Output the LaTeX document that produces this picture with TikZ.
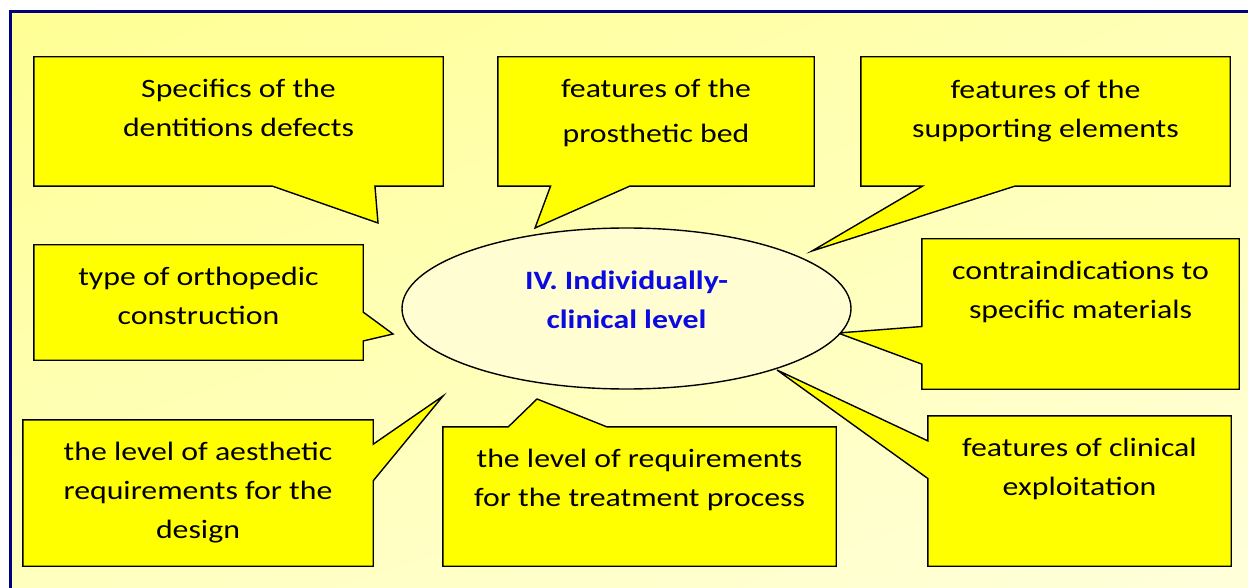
\documentclass[tikz,border=0pt]{standalone}
\usepackage{fontspec}
\newfontfamily\calloutfont{Carlito}[FakeStretch=1.2]
\usetikzlibrary{positioning,calc,shapes.geometric,shadings}
\definecolor{frameblue}{RGB}{0,0,128}
\definecolor{levelblue}{RGB}{10,10,225}
\definecolor{calloutyellow}{RGB}{255,255,0}
\begin{document}
\begin{tikzpicture}[x=1pt,y=-1pt,
	box/.style={rectangle, inner sep=0pt, draw=none},
	callout/.style={draw=black, line width=1.4pt, fill=calloutyellow, line join=miter},
	txt/.style={align=center, inner sep=0pt, font=\calloutfont\fontsize{26.5}{39}\selectfont},
	core/.style={ellipse, draw=black, line width=1.4pt, fill=yellow!18, inner sep=0pt, minimum width=449pt, minimum height=161pt},
	coretxt/.style={txt, text=levelblue, font=\calloutfont\bfseries\fontsize{26.5}{39}\selectfont}]
			%Background
			\clip (0,0) rectangle (1248,588);
			\fill[white] (0,0) rectangle (1248,588);
			\shade[upper left=yellow!42, upper right=yellow!28, lower left=yellow!25, lower right=yellow!14] (10.5,11.5) rectangle (1262,602);
			\draw[frameblue, line width=3pt] (10.5,11.5) rectangle (1262,602);
			%Boxes
			\node[box, minimum width=409pt, minimum height=129pt] (b1) at (238.5,121.5) {};
			\node[box, minimum width=316pt, minimum height=129pt] (b2) at (656,121.5) {};
			\node[box, minimum width=369pt, minimum height=129pt] (b3) at (1045.5,121.5) {};
			\node[box, minimum width=329pt, minimum height=115pt] (b4) at (198.5,302.5) {};
			\node[box, minimum width=317pt, minimum height=150pt] (b5) at (1080.5,314) {};
			\node[box, minimum width=350pt, minimum height=146pt] (b6) at (198,493) {};
			\node[box, minimum width=393pt, minimum height=139pt] (b7) at (639.5,496.5) {};
			\node[box, minimum width=303pt, minimum height=150pt] (b8) at (1079.5,491) {};
			%Pointer tips
			\coordinate (t1) at (378,223);
			\coordinate (t2) at (535,228);
			\coordinate (t3) at (812,251);
			\coordinate (t4) at (393,334);
			\coordinate (t5) at (838,333);
			\coordinate (t6) at (443,396);
			\coordinate (t7) at (537,399);
			\coordinate (t8) at (777,370);
			%Callouts
			\draw[callout] (b1.north west) -- (b1.north east) -- (b1.south east) -- ($(b1.south west)!10/12!(b1.south east)$) -- (t1) -- ($(b1.south west)!7/12!(b1.south east)$) -- (b1.south west) -- cycle;
			\draw[callout] (b2.north west) -- (b2.north east) -- (b2.south east) -- ($(b2.south west)!5/12!(b2.south east)$) -- (t2) -- ($(b2.south west)!2/12!(b2.south east)$) -- (b2.south west) -- cycle;
			\draw[callout] (b3.north west) -- (b3.north east) -- (b3.south east) -- ($(b3.south west)!5/12!(b3.south east)$) -- (t3) -- ($(b3.south west)!2/12!(b3.south east)$) -- (b3.south west) -- cycle;
			\draw[callout] (b4.north west) -- (b4.north east) -- ($(b4.north east)!7/12!(b4.south east)$) -- (t4) -- ($(b4.north east)!10/12!(b4.south east)$) -- (b4.south east) -- (b4.south west) -- cycle;
			\draw[callout] (b5.north west) -- (b5.north east) -- (b5.south east) -- (b5.south west) -- ($(b5.north west)!10/12!(b5.south west)$) -- (t5) -- ($(b5.north west)!7/12!(b5.south west)$) -- cycle;
			\draw[callout] (b6.north west) -- (b6.north east) -- ($(b6.north east)!2/12!(b6.south east)$) -- (t6) -- ($(b6.north east)!5/12!(b6.south east)$) -- (b6.south east) -- (b6.south west) -- cycle;
			\draw[callout] (b7.north west) -- ($(b7.north west)!2/12!(b7.north east)$) -- (t7) -- ($(b7.north west)!5/12!(b7.north east)$) -- (b7.north east) -- (b7.south east) -- (b7.south west) -- cycle;
			\draw[callout] (b8.north west) -- (b8.north east) -- (b8.south east) -- (b8.south west) -- ($(b8.north west)!5/12!(b8.south west)$) -- (t8) -- ($(b8.north west)!2/12!(b8.south west)$) -- cycle;
			%Texts
			\node[txt, below=22pt of b1.north] (l1) {Specifics of the\\dentitions defects};
			\node[txt, below=22pt of b2.north, font=\calloutfont\fontsize{26.5}{45}\selectfont] (l2) {features of the\\prosthetic bed};
			\node[txt, below=23pt of b3.north] (l3) {features of the\\supporting elements};
			\node[txt, below=22pt of b4.north] (l4) {type of orthopedic\\construction};
			\node[txt, below=22pt of b5.north] (l5) {contraindications to\\specific materials};
			\node[txt, below=22pt of b6.north] (l6) {the level of aesthetic\\requirements for the\\design};
			\node[txt, below=22pt of b7.north] (l7) {the level of requirements\\for the treatment process};
			\node[txt, below=22pt of b8.north] (l8) {features of clinical\\exploitation};
			%Level
			\node[core] (lvl) at (626.5,308.5) {};
			\node[coretxt] (lvltxt) at ([yshift=9pt]lvl.center) {IV. Individually-\\clinical level};
\end{tikzpicture}
\end{document}
